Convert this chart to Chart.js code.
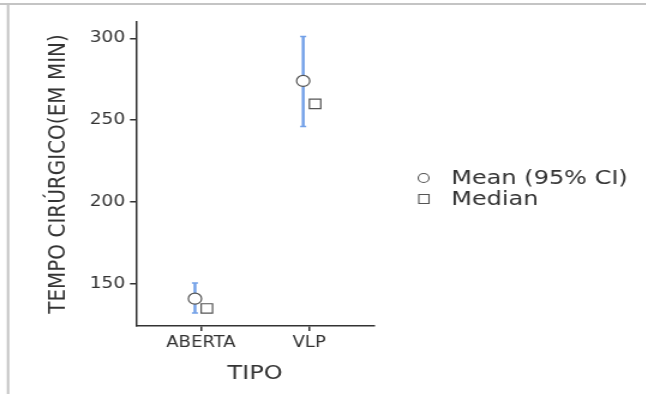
<!DOCTYPE html>
<html>
<head>
<meta charset="utf-8">
<script src="https://cdn.jsdelivr.net/npm/chart.js@4.4.1/dist/chart.umd.min.js"></script>
<style>
    html, body { margin: 0; padding: 0; background: #fff; overflow: hidden; }
    #wrap { width: 538px; height: 394px; transform: scaleX(1.2); transform-origin: 0 0; }
    #chart { width: 538px; height: 394px; }
</style>
</head>
<body>
<div id="wrap"><canvas id="chart" width="538" height="394"></canvas></div>
<script>
const categories = ['ABERTA', 'VLP'];
const means = [141, 274];
const ciLow = [132.3, 246.2];
const ciHigh = [150.5, 301.2];
const medians = [135, 260];
const yTicks = [150, 200, 250, 300];

const dodge = 0.055;
const textColor = '#333';
const font = 'DejaVu Sans';

// frame + error bars + legend
const extras = {
    id: 'extras',
    beforeDraw(chart) {
        const ctx = chart.ctx;
        ctx.save();
        ctx.fillStyle = '#fff';
        ctx.fillRect(0, 0, chart.width, chart.height);
        ctx.strokeStyle = '#c4c4c4';
        ctx.lineWidth = 2;
        ctx.beginPath();
        ctx.moveTo(0, 4);
        ctx.lineTo(chart.width, 4);
        ctx.moveTo(6.7, 4);
        ctx.lineTo(6.7, chart.height);
        ctx.stroke();
        ctx.restore();
    },
    beforeDatasetsDraw(chart) {
        const ctx = chart.ctx;
        const x = chart.scales.x, y = chart.scales.y;
        ctx.save();
        ctx.strokeStyle = '#72a0e8';
        categories.forEach((c, i) => {
            const px = x.getPixelForValue(i + 1 - dodge);
            const top = y.getPixelForValue(ciHigh[i]);
            const bot = y.getPixelForValue(ciLow[i]);
            ctx.lineWidth = 2.4;
            ctx.beginPath();
            ctx.moveTo(px, top);
            ctx.lineTo(px, bot);
            ctx.stroke();
            ctx.lineWidth = 1.5;
            ctx.beginPath();
            ctx.moveTo(px - 2.5, top);
            ctx.lineTo(px + 2.5, top);
            ctx.moveTo(px - 2.5, bot);
            ctx.lineTo(px + 2.5, bot);
            ctx.stroke();
        });
        ctx.restore();
    },
    afterDraw(chart) {
        const ctx = chart.ctx;
        ctx.save();
        ctx.font = '20px "' + font + '"';
        ctx.textBaseline = 'middle';
        chart.data.datasets.forEach((ds, i) => {
            const yy = 178 + i * 21;
            ctx.strokeStyle = '#555';
            ctx.lineWidth = 1.1;
            ctx.fillStyle = '#fff';
            ctx.beginPath();
            if (ds.pointStyle === 'circle') {
                ctx.arc(353, yy, 4.5, 0, Math.PI * 2);
            } else {
                ctx.rect(349, yy - 4.5, 8.5, 9);
            }
            ctx.fill();
            ctx.stroke();
            ctx.fillStyle = textColor;
            ctx.fillText(ds.label, 376, yy + 1);
        });
        ctx.restore();
    }
};

new Chart(document.getElementById('chart'), {
    type: 'scatter',
    data: {
        datasets: [{
            label: 'Mean (95% CI)',
            data: means.map((v, i) => ({ x: i + 1 - dodge, y: v })),
            pointStyle: 'circle',
            pointRadius: 5.5,
            pointBorderWidth: 1.2,
            pointBackgroundColor: '#fff',
            pointBorderColor: '#555'
        }, {
            label: 'Median',
            data: medians.map((v, i) => ({ x: i + 1 + dodge, y: v })),
            pointStyle: 'rect',
            pointRadius: 6.7,
            pointBorderWidth: 1.2,
            pointBackgroundColor: '#fff',
            pointBorderColor: '#555'
        }]
    },
    options: {
        responsive: false,
        animation: false,
        devicePixelRatio: 1,
        layout: { padding: { left: 10, right: 226.3, top: 22, bottom: 0 } },
        plugins: {
            legend: { display: false },
            tooltip: { enabled: false }
        },
        scales: {
            x: {
                type: 'linear',
                min: 0.4,
                max: 2.6,
                afterBuildTicks: s => { s.ticks = categories.map((c, i) => ({ value: i + 1 })); },
                afterFit: s => { s.height = 68; },
                ticks: {
                    callback: v => categories[Math.round(v) - 1],
                    color: textColor,
                    font: { family: font, size: 15 },
                    padding: 3
                },
                grid: { drawOnChartArea: false, drawTicks: true, tickLength: 5, color: '#333', lineWidth: 1.5 },
                border: { display: true, color: '#333', width: 1.5 },
                title: {
                    display: true,
                    text: 'TIPO',
                    color: textColor,
                    font: { family: font, size: 20 },
                    padding: { top: 0, bottom: 8 }
                }
            },
            y: {
                min: 124.3,
                max: 310,
                afterBuildTicks: s => { s.ticks = yTicks.map(v => ({ value: v })); },
                afterFit: s => { s.width = 103.3; },
                ticks: {
                    color: textColor,
                    font: { family: font, size: 15.5 },
                    padding: 4
                },
                grid: { drawOnChartArea: false, drawTicks: true, tickLength: 5, color: '#333', lineWidth: 1.5 },
                border: { display: true, color: '#333', width: 1.5 },
                title: {
                    display: true,
                    text: 'TEMPO CIRÚRGICO(EM MIN)',
                    color: textColor,
                    font: { family: font, size: 20 },
                    padding: { top: 27, bottom: 0 }
                }
            }
        }
    },
    plugins: [extras]
});
</script>
</body>
</html>
